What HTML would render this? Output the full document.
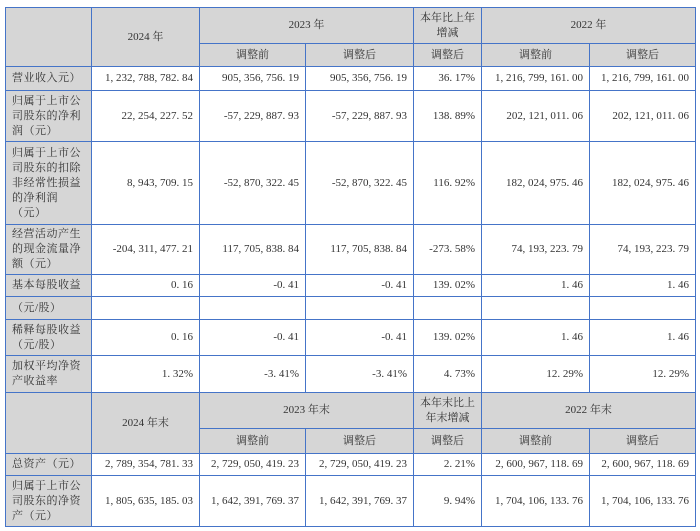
<!DOCTYPE html>
<html><head><meta charset="utf-8"><style>
html,body{margin:0;padding:0;background:#fff;}
#t{position:relative;width:700px;height:531px;font-family:"Liberation Serif","Noto Serif CJK SC",serif;}
.c{position:absolute;box-sizing:border-box;border:1.2px solid #4574c8;display:flex;align-items:center;font-size:11px;color:#333;line-height:15px;overflow:hidden;}
.g{background:#d6d6d6;}
.ctr{justify-content:center;text-align:center;}
.num{justify-content:flex-end;padding-right:6px;font-family:"Liberation Serif",serif;font-size:11px;white-space:pre;}
.lab{padding-left:6px;font-size:11px;letter-spacing:0.5px;white-space:nowrap;}
</style></head><body>
<div id="t"></div>
<script>
const X=[5,91,199,305,413,481,589,695];
const rowLabels=["营业收入元）","归属于上市公<br>司股东的净利<br>润（元）","归属于上市公<br>司股东的扣除<br>非经常性损益<br>的净利润<br>（元）","经营活动产生<br>的现金流量净<br>额（元）","基本每股收益","稀释每股收益<br>（元/股）","加权平均净资<br>产收益率"];
const v2024=["1, 232, 788, 782. 84","22, 254, 227. 52","8, 943, 709. 15","-204, 311, 477. 21","0. 16","0. 16","1. 32%"];
const v2023a=["905, 356, 756. 19","-57, 229, 887. 93","-52, 870, 322. 45","117, 705, 838. 84","-0. 41","-0. 41","-3. 41%"];
const v2023b=["905, 356, 756. 19","-57, 229, 887. 93","-52, 870, 322. 45","117, 705, 838. 84","-0. 41","-0. 41","-3. 41%"];
const vChg=["36. 17%","138. 89%","116. 92%","-273. 58%","139. 02%","139. 02%","4. 73%"];
const v2022a=["1, 216, 799, 161. 00","202, 121, 011. 06","182, 024, 975. 46","74, 193, 223. 79","1. 46","1. 46","12. 29%"];
const v2022b=["1, 216, 799, 161. 00","202, 121, 011. 06","182, 024, 975. 46","74, 193, 223. 79","1. 46","1. 46","12. 29%"];
const t=document.getElementById('t');
function cell(x1,y1,x2,y2,cls,html,name){
  const d=document.createElement('div');
  d.className='c '+cls;
  d.style.left=x1+'px';d.style.top=y1+'px';d.style.width=(x2-x1+1)+'px';d.style.height=(y2-y1+1)+'px';
  d.innerHTML='<span>'+html+'</span>';
  
  
  t.appendChild(d);
}
function header(y1,ym,y2,y24,y23,chg,y22,p){
  cell(X[0],y1,X[1],y2,'g','',p+'header-corner');
  cell(X[1],y1,X[2],y2,'g ctr',y24,p+'header-2024');
  cell(X[2],y1,X[4],ym,'g ctr',y23,p+'header-2023');
  cell(X[4],y1,X[5],ym,'g ctr',chg,p+'header-change');
  cell(X[5],y1,X[7],ym,'g ctr',y22,p+'header-2022');
  const subs=['调整前','调整后','调整后','调整前','调整后'];
  for(let i=0;i<5;i++) cell(X[i+2],ym,X[i+3],y2,'g ctr',subs[i],p+'subheader-'+i);
}
header(7,43,66,'2024 年','2023 年','本年比上年<br>增减','2022 年','');
const cols=[v2024,v2023a,v2023b,vChg,v2022a,v2022b];
const R=[[66,90],[90,141],[141,224],[224,274],[319,355],[355,392]];
const rowMap=[0,1,2,3,5,6];
for(let r=0;r<6;r++){
  const k=rowMap[r];
  const [y1,y2]=R[r];
  cell(X[0],y1,X[1],y2,'g lab',rowLabels[k],'row-label-'+k);
  for(let c=0;c<6;c++) cell(X[c+1],y1,X[c+2],y2,'num',cols[c][k],'value-r'+k+'-c'+c);
}
cell(X[0],274,X[1],296,'g lab',rowLabels[4],'row-label-4');
cell(X[0],296,X[1],319,'g lab','（元/股）','row-label-4b');
for(let c=0;c<6;c++){
  cell(X[c+1],274,X[c+2],296,'num',cols[c][4],'value-r4-c'+c);
  cell(X[c+1],296,X[c+2],319,'num','','blank-r4-c'+c);
}
header(392,428,453,'2024 年末','2023 年末','本年末比上<br>年末增减','2022 年末','asset-');
const bLabels=["总资产（元）","归属于上市公<br>司股东的净资<br>产（元）"];
const b2024=["2, 789, 354, 781. 33","1, 805, 635, 185. 03"];
const b2023a=["2, 729, 050, 419. 23","1, 642, 391, 769. 37"];
const b2023b=["2, 729, 050, 419. 23","1, 642, 391, 769. 37"];
const bChg=["2. 21%","9. 94%"];
const b2022a=["2, 600, 967, 118. 69","1, 704, 106, 133. 76"];
const b2022b=["2, 600, 967, 118. 69","1, 704, 106, 133. 76"];
const bcols=[b2024,b2023a,b2023b,bChg,b2022a,b2022b];
const BR=[[453,475],[475,526]];
for(let r=0;r<2;r++){
  const [y1,y2]=BR[r];
  cell(X[0],y1,X[1],y2,'g lab',bLabels[r],'asset-label-'+r);
  for(let c=0;c<6;c++) cell(X[c+1],y1,X[c+2],y2,'num',bcols[c][r],'asset-value-r'+r+'-c'+c);
}
</script>
</body></html>
